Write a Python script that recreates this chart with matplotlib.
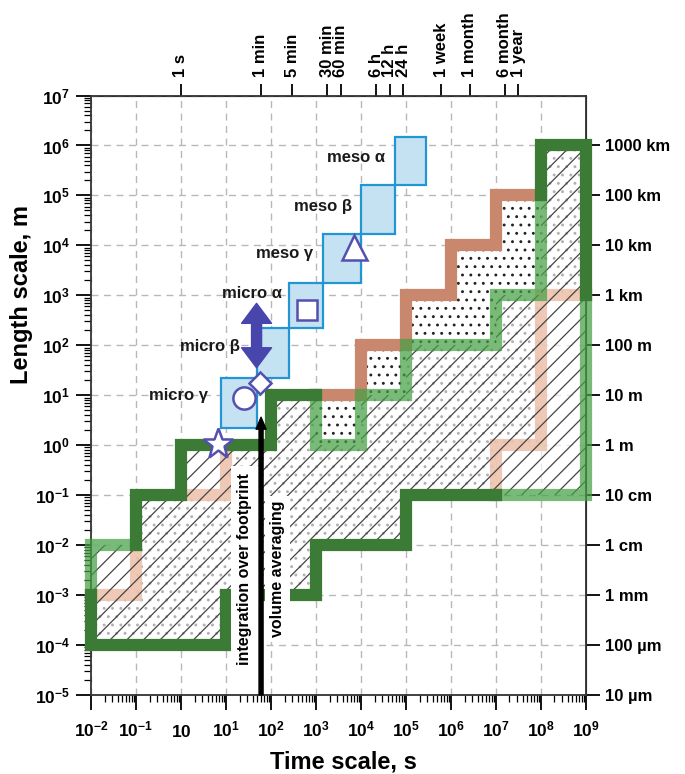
import numpy as np
import matplotlib.pyplot as plt
from matplotlib.patches import Polygon, Rectangle, FancyArrowPatch
from matplotlib.ticker import LogLocator, NullLocator

plt.rcParams['font.family'] = ['Liberation Sans', 'DejaVu Sans']
plt.rcParams['font.weight'] = 'bold'
plt.rcParams['mathtext.fontset'] = 'custom'
plt.rcParams['mathtext.rm'] = 'Liberation Sans:bold'
plt.rcParams['mathtext.it'] = 'Liberation Sans:bold'
plt.rcParams['mathtext.bf'] = 'Liberation Sans:bold'
plt.rcParams['hatch.linewidth'] = 0.9

# tick positions (exponents of 10) and labels
x_exp = list(range(-2, 10))
x_labels = [r'$10^{-2}$', r'$10^{-1}$', r'$10$', r'$10^{1}$', r'$10^{2}$', r'$10^{3}$',
            r'$10^{4}$', r'$10^{5}$', r'$10^{6}$', r'$10^{7}$', r'$10^{8}$', r'$10^{9}$']
y_exp = list(range(-5, 8))
y_labels = [r'$10^{%d}$' % e for e in y_exp]

top_secs = [1, 60, 300, 1800, 3600, 21600, 43200, 86400, 604800, 2592000, 15552000, 31536000]
top_labels = ['1 s', '1 min', '5 min', '30 min', '60 min', '6 h', '12 h', '24 h',
              '1 week', '1 month', '6 month', '1 year']
right_exp = list(range(6, -6, -1))
right_labels = ['1000 km', '100 km', '10 km', '1 km', '100 m', '10 m', '1 m',
                '10 cm', '1 cm', '1 mm', '100 µm', '10 µm']

# atmospheric scale boxes (log10 s, log10 m)
scale_names = ['micro γ', 'micro β', 'micro α', 'meso γ', 'meso β', 'meso α']
box_t0 = [0.9, 1.7, 2.4, 3.15, 4.0, 4.75]
box_t1 = [1.7, 2.4, 3.15, 4.0, 4.75, 5.45]
box_L0 = [0.35, 1.35, 2.35, 3.25, 4.22, 5.2]
box_L1 = [1.35, 2.35, 3.25, 4.22, 5.2, 6.17]
name_t = [0.6, 1.31, 2.24, 2.93, 3.8, 4.53]
name_L = [1.0, 1.98, 3.04, 3.84, 4.78, 5.75]

# symbols inside the boxes
sym_marker = ['*', 'D', 'o', 's', '^']
sym_t = [0.82, 1.76, 1.40, 2.80, 3.85]
sym_L = [0.03, 1.25, 0.94, 2.70, 3.96]
sym_size = [23, 11, 16, 15, 18]
updown_t = 1.68
updown_L = [1.55, 2.84]

# hatched region (outline exponents)
green_t = [-2, 1, 1, 3, 3, 5, 5, 9, 9, 8, 8, 7, 7, 5, 5, 4, 4, 3, 3, 2, 2, 0, 0, -1, -1, -2]
green_L = [-4, -4, -3, -3, -2, -2, -1, -1, 6, 6, 3, 3, 2, 2, 1, 1, 0, 0, 1, 1, 0, 0, -1, -1, -2, -2]
# dotted region
salmon_t = [-2, -2, -1, -1, 0, 1, 1, 2, 2, 4, 4, 5, 5, 6, 6, 7, 7, 8, 8, 9, 9, 8, 8, 7, 7, 5, 5, 3, 3, 1, 1]
salmon_L = [-4, -3, -3, -1, -1, -1, 0, 0, 1, 1, 2, 2, 3, 3, 4, 4, 5, 5, 6, 6, 3, 3, 0, 0, -1, -1, -2, -2, -3, -3, -4]

# outline pieces and their colours
dark_green_lines = [
    ([-2, -2, 1, 1, 3, 3, 5, 5, 7], [-3, -4, -4, -3, -3, -2, -2, -1, -1]),
    ([9, 9, 8, 8], [3, 6, 6, 5]),
    ([3, 2, 2, 0, 0, -1, -1], [1, 1, 0, 0, -1, -1, -2]),
]
light_green_lines = [
    ([7, 9, 9], [-1, -1, 3]),
    ([8, 8, 7, 7, 5, 5, 4, 4, 3, 3], [5, 3, 3, 2, 2, 1, 1, 0, 0, 1]),
    ([-1, -2, -2], [-2, -2, -3]),
]
dark_salmon_lines = [
    ([3, 4, 4, 5, 5, 6, 6, 7, 7, 8], [1, 1, 2, 2, 3, 3, 4, 4, 5, 5]),
]
light_salmon_lines = [
    ([9, 8, 8, 7, 7], [3, 3, 0, 0, -1]),
    ([-2, -1, -1], [-3, -3, -2]),
    ([0, 1, 1], [-1, -1, 0]),
]

arrow_t = 1.78
arrow_L = [-5, 0.56]


def pts(t, L):
    return np.column_stack([10.0 ** np.asarray(t, float), 10.0 ** np.asarray(L, float)])


fig = plt.figure(figsize=(6.85, 7.74), dpi=100)
ax = fig.add_axes([0.1328, 0.1021, 0.7226, 0.7745])
ax.set_xscale('log')
ax.set_yscale('log')
ax.set_xlim(1e-2, 1e9)
ax.set_ylim(1e-5, 1e7)

ax.grid(True, which='major', ls=(0, (5, 4)), color='#b8b8b8', lw=1.0, zorder=0.5)
ax.set_axisbelow(True)

# dotted region
ax.add_patch(Polygon(pts(salmon_t, salmon_L), closed=True, facecolor='white',
                     edgecolor='#222222', lw=0, hatch='..', zorder=1))
# hatched region: fade the dots, then diagonal lines
ax.add_patch(Polygon(pts(green_t, green_L), closed=True, facecolor='white',
                     edgecolor='none', lw=0, alpha=0.65, zorder=2))
for t, L in light_salmon_lines:
    ax.plot(10.0 ** np.array(t, float), 10.0 ** np.array(L, float), color='#eec3ad',
            lw=8.8, alpha=0.9, solid_joinstyle='miter', solid_capstyle='projecting',
            clip_on=False, zorder=2.05)
ax.add_patch(Polygon(pts(green_t, green_L), closed=True, facecolor='none',
                     edgecolor='#444444', lw=0, hatch='//', zorder=2.1))

for t, L in dark_salmon_lines:
    ax.plot(10.0 ** np.array(t, float), 10.0 ** np.array(L, float), color='#c9876d',
            lw=8.8, solid_joinstyle='miter', solid_capstyle='projecting',
            clip_on=False, zorder=3)
for t, L in light_green_lines:
    ax.plot(10.0 ** np.array(t, float), 10.0 ** np.array(L, float), color='#45a045',
            lw=8.8, alpha=0.72, solid_joinstyle='miter', solid_capstyle='projecting',
            clip_on=False, zorder=3.1)
for t, L in dark_green_lines:
    ax.plot(10.0 ** np.array(t, float), 10.0 ** np.array(L, float), color='#3b7b36',
            lw=8.8, solid_joinstyle='miter', solid_capstyle='projecting',
            clip_on=False, zorder=3.2)

# scale boxes
for name, t0, t1, L0, L1, nt, nL in zip(scale_names, box_t0, box_t1, box_L0, box_L1, name_t, name_L):
    ax.add_patch(Rectangle((10 ** t0, 10 ** L0), 10 ** t1 - 10 ** t0, 10 ** L1 - 10 ** L0,
                           facecolor='#c5e2f3', edgecolor='#2495d3', lw=1.6, zorder=4))
    ax.text(10 ** nt, 10 ** nL, name, ha='right', va='center', fontsize=12,
            fontweight='bold', color='#1a1a1a', zorder=5)

for m, t, L, s in zip(sym_marker, sym_t, sym_L, sym_size):
    ax.plot(10 ** t, 10 ** L, marker=m, ms=s, mfc='white', mec='#5550b0', mew=1.8,
            ls='none', zorder=6)

mid = 10 ** (sum(updown_L) / 2)
for end in updown_L:
    ax.add_patch(FancyArrowPatch((10 ** updown_t, mid), (10 ** updown_t, 10 ** end),
                                 arrowstyle='simple,head_width=1.08,head_length=0.72,tail_width=0.36',
                                 mutation_scale=20, color='#4846ad', shrinkA=0, shrinkB=0,
                                 zorder=6))

ax.text(10 ** 1.42, 10 ** -2.47, 'integration over footprint', rotation=90, ha='center',
        va='center', fontsize=11.5, fontweight='bold', zorder=5,
        bbox=dict(boxstyle='square,pad=0.4', fc='white', ec='none'))
ax.text(10 ** 2.15, 10 ** -2.47, 'volume averaging', rotation=90, ha='center',
        va='center', fontsize=11.5, fontweight='bold', zorder=5,
        bbox=dict(boxstyle='square,pad=0.3', fc='white', ec='none'))
ax.add_patch(FancyArrowPatch((10 ** arrow_t, 10 ** arrow_L[0]), (10 ** arrow_t, 10 ** arrow_L[1]),
                             arrowstyle='simple,head_width=0.72,head_length=0.86,tail_width=0.29',
                             mutation_scale=10, color='black', shrinkA=0, shrinkB=0,
                             clip_on=False, zorder=7))

# bottom / left axes
ax.set_xticks([10.0 ** e for e in x_exp], labels=x_labels)
ax.set_yticks([10.0 ** e for e in y_exp], labels=y_labels)
ax.xaxis.set_minor_locator(LogLocator(base=10, subs=np.arange(2, 10), numticks=100))
ax.yaxis.set_minor_locator(LogLocator(base=10, subs=np.arange(2, 10), numticks=100))
ax.tick_params(which='major', direction='out', length=11, width=1.3, labelsize=12.5, pad=4)
ax.tick_params(axis='x', which='major', pad=19)
ax.tick_params(which='minor', direction='out', length=5, width=0.9)
for lab in ax.get_xticklabels():
    lab.set_verticalalignment('baseline')
for sp in ax.spines.values():
    sp.set_linewidth(1.3)
    sp.set_color('#333333')

# top axis: time in words
top = ax.secondary_xaxis('top')
top.set_xticks(top_secs, labels=top_labels)
top.xaxis.set_minor_locator(NullLocator())
top.tick_params(direction='out', length=9, width=1.3, labelsize=12, labelrotation=90, pad=4)

# right axis: length in words
right = ax.secondary_yaxis('right')
right.set_yticks([10.0 ** e for e in right_exp], labels=right_labels)
right.yaxis.set_minor_locator(NullLocator())
right.tick_params(direction='out', length=10, width=1.3, labelsize=12, pad=4)

fig.text(0.032, 1 - 295 / 774, 'Length scale, m', rotation=90, ha='center', va='center',
         fontsize=17, fontweight='bold')
fig.text(343 / 685, 1 - 762 / 774, 'Time scale, s', ha='center', va='center',
         fontsize=17, fontweight='bold')

fig.savefig('out.png', dpi=100)
